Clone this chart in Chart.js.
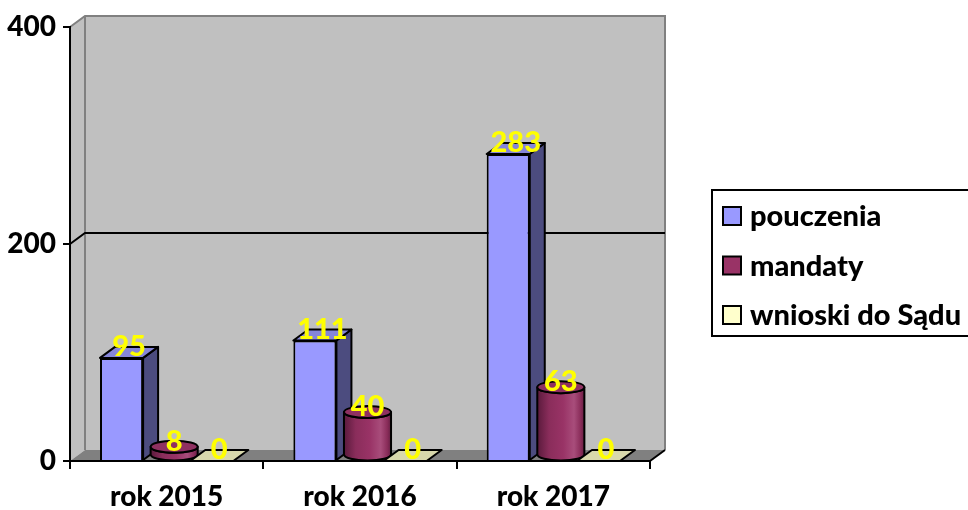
<!DOCTYPE html>
<html>
<head>
<meta charset="utf-8">
<script src="https://cdn.jsdelivr.net/npm/chart.js@4.4.1/dist/chart.umd.min.js"></script>
<style>
  html, body { margin: 0; padding: 0; background: #fff; }
  #wrap { width: 968px; height: 510px; }
</style>
</head>
<body>
<div id="wrap"><canvas id="chart" width="968" height="510"></canvas></div>
<script>
// data
const categories = ['rok 2015', 'rok 2016', 'rok 2017'];
const pouczenia = [95, 111, 283];
const mandaty = [8, 40, 63];
const wnioski = [0, 0, 0];
const seriesNames = ['pouczenia', 'mandaty', 'wnioski do Sądu'];
const yTicks = [0, 200, 400];

// fake 3D depth offset
const DX = 15, DY = -11;
const FONT = 'Lato';
const seriesColors = ['#9999ff', '#993366', '#ffffcc'];

// walls, floor and gridlines, drawn before the axes
const wallPlugin = {
  id: 'walls',
  beforeDraw(chart) {
    const ctx = chart.ctx, a = chart.chartArea, ys = chart.scales.y;
    ctx.save();
    ctx.fillStyle = '#c0c0c0';
    ctx.beginPath();
    ctx.moveTo(a.left, a.top);
    ctx.lineTo(a.left + DX, a.top + DY);
    ctx.lineTo(a.right + DX, a.top + DY);
    ctx.lineTo(a.right + DX, a.bottom + DY);
    ctx.lineTo(a.left + DX, a.bottom + DY);
    ctx.lineTo(a.left, a.bottom);
    ctx.closePath();
    ctx.fill();

    // floor
    ctx.fillStyle = '#808080';
    ctx.beginPath();
    ctx.moveTo(a.left, a.bottom);
    ctx.lineTo(a.right, a.bottom);
    ctx.lineTo(a.right + DX, a.bottom + DY);
    ctx.lineTo(a.left + DX, a.bottom + DY);
    ctx.closePath();
    ctx.fill();

    // wall edges
    ctx.strokeStyle = '#808080';
    ctx.lineWidth = 2;
    ctx.beginPath();
    ctx.moveTo(a.left, a.top);
    ctx.lineTo(a.left + DX, a.top + DY);
    ctx.lineTo(a.right + DX, a.top + DY);
    ctx.lineTo(a.right + DX, a.bottom + DY);
    ctx.moveTo(a.left + DX, a.top + DY);
    ctx.lineTo(a.left + DX, a.bottom + DY);
    ctx.stroke();

    // gridlines (inner ticks only)
    ctx.strokeStyle = '#000';
    yTicks.slice(1, -1).forEach(v => {
      const py = ys.getPixelForValue(v);
      ctx.beginPath();
      ctx.moveTo(a.left, py);
      ctx.lineTo(a.left + DX, py + DY);
      ctx.lineTo(a.right + DX, py + DY);
      ctx.stroke();
    });

    // floor right edge
    ctx.beginPath();
    ctx.moveTo(a.right, a.bottom);
    ctx.lineTo(a.right + DX, a.bottom + DY);
    ctx.stroke();
    ctx.restore();
  }
};

function poly(ctx, pts, fill) {
  ctx.beginPath();
  ctx.moveTo(pts[0][0], pts[0][1]);
  for (let i = 1; i < pts.length; i++) ctx.lineTo(pts[i][0], pts[i][1]);
  ctx.closePath();
  ctx.fillStyle = fill;
  ctx.fill();
  ctx.stroke();
}

// box sides, cylinders, flat zero bars and yellow value labels
const barsPlugin = {
  id: 'bars3d',
  afterDatasetsDraw(chart) {
    const ctx = chart.ctx;
    ctx.save();
    ctx.strokeStyle = '#000';
    ctx.lineWidth = 2;
    ctx.lineJoin = 'round';

    const metas = [0, 1, 2].map(i => chart.getDatasetMeta(i));
    categories.forEach((c, j) => {
      // boxes
      const b = metas[0].data[j].getProps(['x', 'y', 'base', 'width'], true);
      const l = b.x - b.width / 2, r = b.x + b.width / 2;
      poly(ctx, [[r, b.y], [r + DX, b.y + DY], [r + DX, b.base + DY], [r, b.base]], '#4c4c7f');
      poly(ctx, [[l, b.y], [l + DX, b.y + DY], [r + DX, b.y + DY], [r, b.y]], '#8585d8');

      // cylinders
      const m = metas[1].data[j].getProps(['x', 'y', 'base', 'width'], true);
      const cx = m.x + DX / 2, rx = m.width / 2 + 2, ry = 6;
      const top = m.y + DY / 2, bot = m.base + DY / 2;
      const g = ctx.createLinearGradient(cx - rx, 0, cx + rx, 0);
      g.addColorStop(0, '#5a1a3c');
      g.addColorStop(0.25, '#8a2d5b');
      g.addColorStop(0.55, '#993366');
      g.addColorStop(0.78, '#a84d7b');
      g.addColorStop(0.92, '#8a2d5a');
      g.addColorStop(1, '#651f43');
      ctx.beginPath();
      ctx.moveTo(cx - rx, top);
      ctx.lineTo(cx - rx, bot);
      ctx.ellipse(cx, bot, rx, ry, 0, Math.PI, 0, true);
      ctx.lineTo(cx + rx, top);
      ctx.ellipse(cx, top, rx, ry, 0, 0, Math.PI, false);
      ctx.closePath();
      ctx.fillStyle = g;
      ctx.fill();
      ctx.stroke();
      ctx.beginPath();
      ctx.ellipse(cx, top, rx, ry, 0, 0, Math.PI * 2);
      ctx.fillStyle = '#8f3161';
      ctx.fill();
      ctx.stroke();

      // flat (zero) bars
      const w = metas[2].data[j].getProps(['x', 'y', 'base', 'width'], true);
      const wl = w.x - w.width / 2, wr = w.x + w.width / 2;
      poly(ctx, [[wl, w.y], [wl + DX, w.y + DY], [wr + DX, w.y + DY], [wr, w.y]], '#d8d8ac');
    });

    // labels
    ctx.font = '900 29px ' + FONT;
    ctx.fillStyle = '#ffff00';
    ctx.textAlign = 'center';
    ctx.textBaseline = 'middle';
    metas.forEach((meta, i) => {
      meta.data.forEach((el, j) => {
        const p = el.getProps(['x', 'y'], true);
        ctx.fillText(String(chart.data.datasets[i].data[j]), p.x + DX / 2, p.y + DY);
      });
    });
    ctx.restore();
  }
};

// boxed legend on the right
const legendPlugin = {
  id: 'boxLegend',
  afterDraw(chart) {
    const ctx = chart.ctx;
    ctx.save();
    ctx.strokeStyle = '#000';
    ctx.lineWidth = 2;
    ctx.strokeRect(712, 190, 300, 146);
    ctx.font = '900 29px ' + FONT;
    ctx.textBaseline = 'middle';
    ctx.textAlign = 'left';
    seriesNames.forEach((name, i) => {
      const cy = 216 + i * 49.5;
      ctx.fillStyle = seriesColors[i];
      ctx.fillRect(723, cy - 9, 18, 18);
      ctx.strokeRect(723, cy - 9, 18, 18);
      ctx.fillStyle = '#000';
      ctx.fillText(name, 750, cy + 1);
    });
    ctx.restore();
  }
};

new Chart(document.getElementById('chart'), {
  type: 'bar',
  data: {
    labels: categories,
    datasets: [
      { label: seriesNames[0], data: pouczenia, backgroundColor: seriesColors[0], borderColor: '#000', borderWidth: 2 },
      { label: seriesNames[1], data: mandaty, backgroundColor: 'rgba(0,0,0,0)', borderWidth: 0 },
      { label: seriesNames[2], data: wnioski, backgroundColor: 'rgba(0,0,0,0)', borderWidth: 0 }
    ]
  },
  options: {
    responsive: false,
    animation: false,
    devicePixelRatio: 1,
    categoryPercentage: 0.7,
    barPercentage: 0.955,
    layout: { padding: { top: 27, right: 318, left: 0, bottom: 0 } },
    plugins: { legend: { display: false }, tooltip: { enabled: false } },
    scales: {
      x: {
        afterFit: s => { s.height = 49; },
        grid: { drawOnChartArea: false, color: '#000', lineWidth: 2, tickLength: 8 },
        border: { color: '#000', width: 2 },
        ticks: { color: '#000', font: { family: FONT, size: 28, weight: '900' }, padding: 11 }
      },
      y: {
        min: 0,
        max: 400,
        afterFit: s => { s.width = 70; },
        afterBuildTicks: s => { s.ticks = yTicks.map(v => ({ value: v })); },
        grid: { drawOnChartArea: false, color: '#000', lineWidth: 2, tickLength: 7 },
        border: { color: '#000', width: 2 },
        ticks: { color: '#000', font: { family: FONT, size: 28, weight: '900' }, padding: 7 }
      }
    }
  },
  plugins: [wallPlugin, barsPlugin, legendPlugin]
});
</script>
</body>
</html>
